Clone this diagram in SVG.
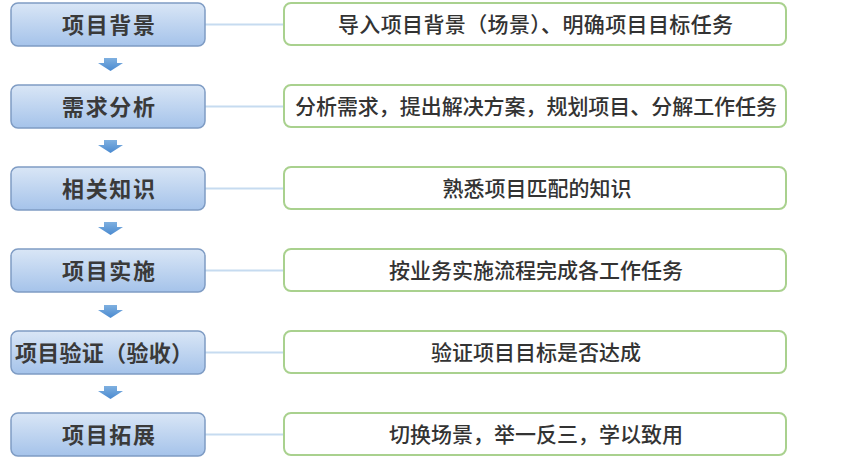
<svg xmlns="http://www.w3.org/2000/svg" width="852" height="464" viewBox="0 0 852 464">
<defs>
<linearGradient id="gb" x1="0" y1="0" x2="0" y2="1">
<stop offset="0" stop-color="#d9e6f6"/>
<stop offset="1" stop-color="#a5c3ea"/>
</linearGradient>
<linearGradient id="ga" x1="0" y1="0" x2="0" y2="1">
<stop offset="0" stop-color="#7fb0e0"/>
<stop offset="1" stop-color="#4a8ad0"/>
</linearGradient>
<path id="arr" d="M104,0 H117 V5 H123 L110.5,13 L98,5 H104 Z" fill="url(#ga)"/>
</defs>
<style>
.l{fill:url(#gb);stroke:#7f9cc4;stroke-width:1.5}
.r{fill:#fff;stroke:#a9d18e;stroke-width:2}
.c{stroke:#c6dbf0;stroke-width:2;fill:none}
.t{font-family:"Noto Sans CJK SC","Noto Sans",sans-serif;font-size:22px;font-weight:700;fill:#3a3a3a;text-anchor:middle}
.u{font-family:"Noto Sans CJK SC","Noto Sans",sans-serif;font-size:21px;font-weight:500;fill:#333;text-anchor:middle}
</style>
<rect width="852" height="464" fill="#fff"/>
<g id="connectors">
<line class="c" x1="205" y1="24.5" x2="284" y2="24.5"/>
<line class="c" x1="205" y1="106.5" x2="284" y2="106.5"/>
<line class="c" x1="205" y1="188.5" x2="284" y2="188.5"/>
<line class="c" x1="205" y1="270.5" x2="284" y2="270.5"/>
<line class="c" x1="205" y1="352.5" x2="284" y2="352.5"/>
<line class="c" x1="205" y1="434.5" x2="284" y2="434.5"/>
<use href="#arr" y="58"/>
<use href="#arr" y="140"/>
<use href="#arr" y="222"/>
<use href="#arr" y="305"/>
<use href="#arr" y="386"/>
</g>
<g id="n1"><rect class="l" x="11" y="3" width="194" height="43" rx="7"/><text class="t" x="108.5" y="32.5" textLength="93">项目背景</text></g>
<g id="d1"><rect class="r" x="284" y="3" width="502" height="42" rx="7"/><text class="u" x="535.5" y="32" textLength="395">导入项目背景（场景）、明确项目目标任务</text></g>
<g id="n2"><rect class="l" x="11" y="85" width="194" height="43" rx="7"/><text class="t" x="108.5" y="114.5" textLength="93">需求分析</text></g>
<g id="d2"><rect class="r" x="284" y="85" width="502" height="42" rx="7"/><text class="u" x="536" y="114" textLength="482">分析需求，提出解决方案，规划项目、分解工作任务</text></g>
<g id="n3"><rect class="l" x="11" y="167" width="194" height="43" rx="7"/><text class="t" x="108.5" y="196.5" textLength="93">相关知识</text></g>
<g id="d3"><rect class="r" x="284" y="167" width="502" height="42" rx="7"/><text class="u" x="537" y="196">熟悉项目匹配的知识</text></g>
<g id="n4"><rect class="l" x="11" y="249" width="194" height="43" rx="7"/><text class="t" x="108.5" y="278.5" textLength="93">项目实施</text></g>
<g id="d4"><rect class="r" x="284" y="249" width="502" height="42" rx="7"/><text class="u" x="536" y="278">按业务实施流程完成各工作任务</text></g>
<g id="n5"><rect class="l" x="11" y="331" width="194" height="43" rx="7"/><text class="t" x="104" y="360.5" textLength="178">项目验证（验收）</text></g>
<g id="d5"><rect class="r" x="284" y="331" width="502" height="42" rx="7"/><text class="u" x="536" y="360">验证项目目标是否达成</text></g>
<g id="n6"><rect class="l" x="11" y="413" width="194" height="43" rx="7"/><text class="t" x="108.5" y="442.5" textLength="93">项目拓展</text></g>
<g id="d6"><rect class="r" x="284" y="413" width="502" height="42" rx="7"/><text class="u" x="536" y="442">切换场景，举一反三，学以致用</text></g>
</svg>
